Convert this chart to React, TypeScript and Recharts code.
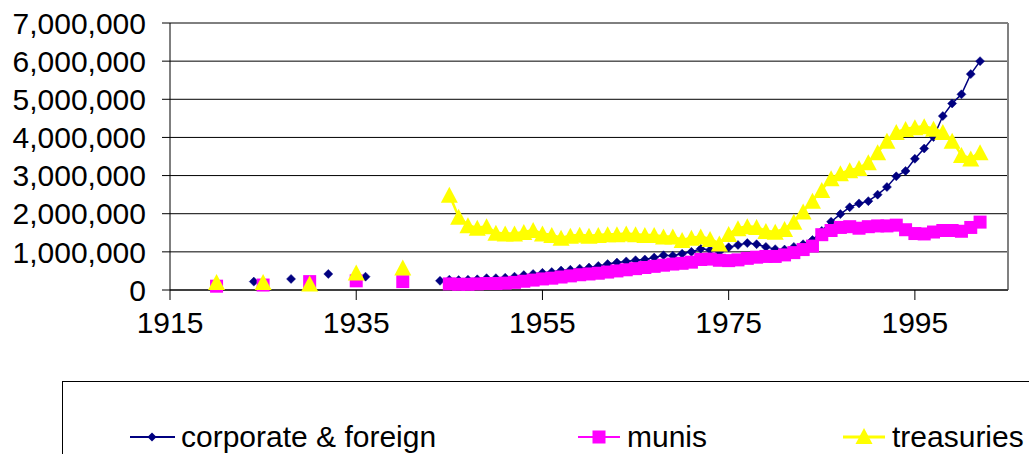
import React from "react";
import { LineChart, Line, XAxis, YAxis, CartesianGrid, ReferenceLine } from "recharts";

const FONT = "Arial, 'Liberation Sans', sans-serif";

// early years are sparse, annual series from 1944/1945 on
const years = [
  1920, 1924, 1925, 1928, 1930, 1932, 1935, 1936, 1940, 1944,
  1945, 1946, 1947, 1948, 1949, 1950, 1951, 1952, 1953, 1954,
  1955, 1956, 1957, 1958, 1959, 1960, 1961, 1962, 1963, 1964,
  1965, 1966, 1967, 1968, 1969, 1970, 1971, 1972, 1973, 1974,
  1975, 1976, 1977, 1978, 1979, 1980, 1981, 1982, 1983, 1984,
  1985, 1986, 1987, 1988, 1989, 1990, 1991, 1992, 1993, 1994,
  1995, 1996, 1997, 1998, 1999, 2000, 2001, 2002,
];

const corporate = [
  null, 220000, null, 290000, null, 420000, null, 350000, null, 240000,
  270000, 260000, 270000, 280000, 310000, 310000, 320000, 350000, 390000, 420000,
  450000, 470000, 510000, 530000, 560000, 590000, 630000, 680000, 720000, 750000,
  780000, 800000, 850000, 910000, 900000, 950000, 1000000, 1080000, 1050000, 1000000,
  1120000, 1180000, 1230000, 1200000, 1130000, 1070000, 1060000, 1130000, 1200000, 1310000,
  1550000, 1790000, 1990000, 2170000, 2270000, 2330000, 2500000, 2700000, 2980000, 3120000,
  3440000, 3710000, 4010000, 4560000, 4890000, 5130000, 5660000, 6000000,
];

const munis = [
  100000, null, 130000, null, 220000, null, 240000, null, 220000, null,
  160000, 150000, 150000, 160000, 170000, 170000, 180000, 200000, 230000, 260000,
  290000, 310000, 340000, 370000, 400000, 420000, 440000, 470000, 500000, 530000,
  560000, 590000, 620000, 650000, 680000, 700000, 730000, 800000, 810000, 780000,
  770000, 790000, 830000, 860000, 880000, 880000, 920000, 980000, 1060000, 1150000,
  1450000, 1560000, 1640000, 1660000, 1620000, 1660000, 1680000, 1680000, 1700000, 1580000,
  1480000, 1470000, 1520000, 1560000, 1560000, 1540000, 1640000, 1780000,
];

const treasuries = [
  210000, null, 210000, null, 170000, null, 460000, null, 590000, null,
  2500000, 1920000, 1700000, 1630000, 1670000, 1500000, 1480000, 1480000, 1520000, 1570000,
  1480000, 1440000, 1370000, 1420000, 1450000, 1420000, 1440000, 1460000, 1460000, 1480000,
  1460000, 1440000, 1440000, 1400000, 1400000, 1310000, 1370000, 1400000, 1340000, 1220000,
  1470000, 1620000, 1670000, 1650000, 1550000, 1530000, 1600000, 1790000, 2060000, 2340000,
  2620000, 2930000, 3060000, 3140000, 3200000, 3350000, 3610000, 3910000, 4140000, 4220000,
  4270000, 4290000, 4230000, 4140000, 3910000, 3540000, 3450000, 3610000,
];

const xTicks = [1915, 1935, 1955, 1975, 1995];
const yTicks = [0, 1000000, 2000000, 3000000, 4000000, 5000000, 6000000, 7000000];

const data = years.map((year, i) => ({
  year,
  corporate: corporate[i],
  munis: munis[i],
  treasuries: treasuries[i],
}));

const NAVY = "#000080";
const MAGENTA = "#FF00FF";
const YELLOW = "#FFFF00";

const diamond = (cx: number, cy: number, r: number) =>
  `M${cx},${cy - r}L${cx + r},${cy}L${cx},${cy + r}L${cx - r},${cy}Z`;
const triangle = (cx: number, cy: number, w: number, h: number) =>
  `M${cx},${cy - h / 2}L${cx + w / 2},${cy + h / 2}L${cx - w / 2},${cy + h / 2}Z`;

const renderDiamond = (p: any) => {
  if (p.value == null || p.cy == null) return <g key={`d-${p.index}`} />;
  return <path key={`d-${p.index}`} d={diamond(p.cx, p.cy, 4.5)} fill={NAVY} stroke={NAVY} strokeWidth={0.5} />;
};

const renderSquare = (p: any) => {
  if (p.value == null || p.cy == null) return <g key={`s-${p.index}`} />;
  return <rect key={`s-${p.index}`} x={p.cx - 6.5} y={p.cy - 6.5} width={13} height={13} fill={MAGENTA} />;
};

const renderTriangle = (p: any) => {
  if (p.value == null || p.cy == null) return <g key={`t-${p.index}`} />;
  return <path key={`t-${p.index}`} d={triangle(p.cx, p.cy, 17, 16)} fill={YELLOW} />;
};

const legendY = 437;

const App = () => {
  return (
    <div style={{ position: "absolute", left: 0, top: 0, width: 1029, height: 454, overflow: "hidden", background: "#fff", fontFamily: FONT }}>
      <LineChart
        width={1029}
        height={454}
        data={data}
        margin={{ top: 23, right: 21, bottom: 104, left: 10 }}
      >
        <CartesianGrid vertical={false} stroke="#000" strokeWidth={1} />
        <XAxis
          dataKey="year"
          type="number"
          domain={[1915, 2005]}
          ticks={xTicks}
          interval={0}
          allowDataOverflow
          height={60}
          tickSize={10}
          tickMargin={12}
          stroke="#000"
          tick={{ fill: "#000", fontSize: 30, fontFamily: FONT }}
        />
        <YAxis
          domain={[0, 7000000]}
          ticks={yTicks}
          interval={0}
          width={160}
          tickSize={8}
          tickMargin={16}
          stroke="#000"
          tick={{ fill: "#000", fontSize: 30, fontFamily: FONT }}
          tickFormatter={(v: number) => v.toLocaleString("en-US")}
        />
        <ReferenceLine x={2005} stroke="#808080" strokeWidth={2} />
        <Line
          dataKey="corporate"
          type="linear"
          stroke={NAVY}
          strokeWidth={1.5}
          dot={renderDiamond}
          activeDot={false}
          isAnimationActive={false}
        />
        <Line
          dataKey="munis"
          type="linear"
          stroke={MAGENTA}
          strokeWidth={2}
          dot={renderSquare}
          activeDot={false}
          isAnimationActive={false}
        />
        <Line
          dataKey="treasuries"
          type="linear"
          stroke={YELLOW}
          strokeWidth={2.5}
          dot={renderTriangle}
          activeDot={false}
          isAnimationActive={false}
        />
      </LineChart>

      <div style={{ position: "absolute", left: 62, top: 381, width: 1100, height: 200, border: "1px solid #000", boxSizing: "border-box" }} />
      <svg width={1029} height={454} style={{ position: "absolute", left: 0, top: 0 }}>
        <line x1={130} x2={175} y1={legendY} y2={legendY} stroke={NAVY} strokeWidth={2} />
        <path d={diamond(152, legendY, 4.5)} fill={NAVY} />
        <text x={181} y={legendY + 10} fontSize={30} fontFamily={FONT} fill="#000">corporate &amp; foreign</text>

        <line x1={578} x2={620} y1={legendY} y2={legendY} stroke={MAGENTA} strokeWidth={2} />
        <rect x={599 - 6.5} y={legendY - 6.5} width={13} height={13} fill={MAGENTA} />
        <text x={627} y={legendY + 10} fontSize={30} fontFamily={FONT} fill="#000">munis</text>

        <line x1={843} x2={885} y1={legendY} y2={legendY} stroke={YELLOW} strokeWidth={3} />
        <path d={triangle(864, legendY - 1, 17, 16)} fill={YELLOW} />
        <text x={892} y={legendY + 10} fontSize={30} fontFamily={FONT} fill="#000">treasuries</text>
      </svg>
    </div>
  );
};

export default App;
